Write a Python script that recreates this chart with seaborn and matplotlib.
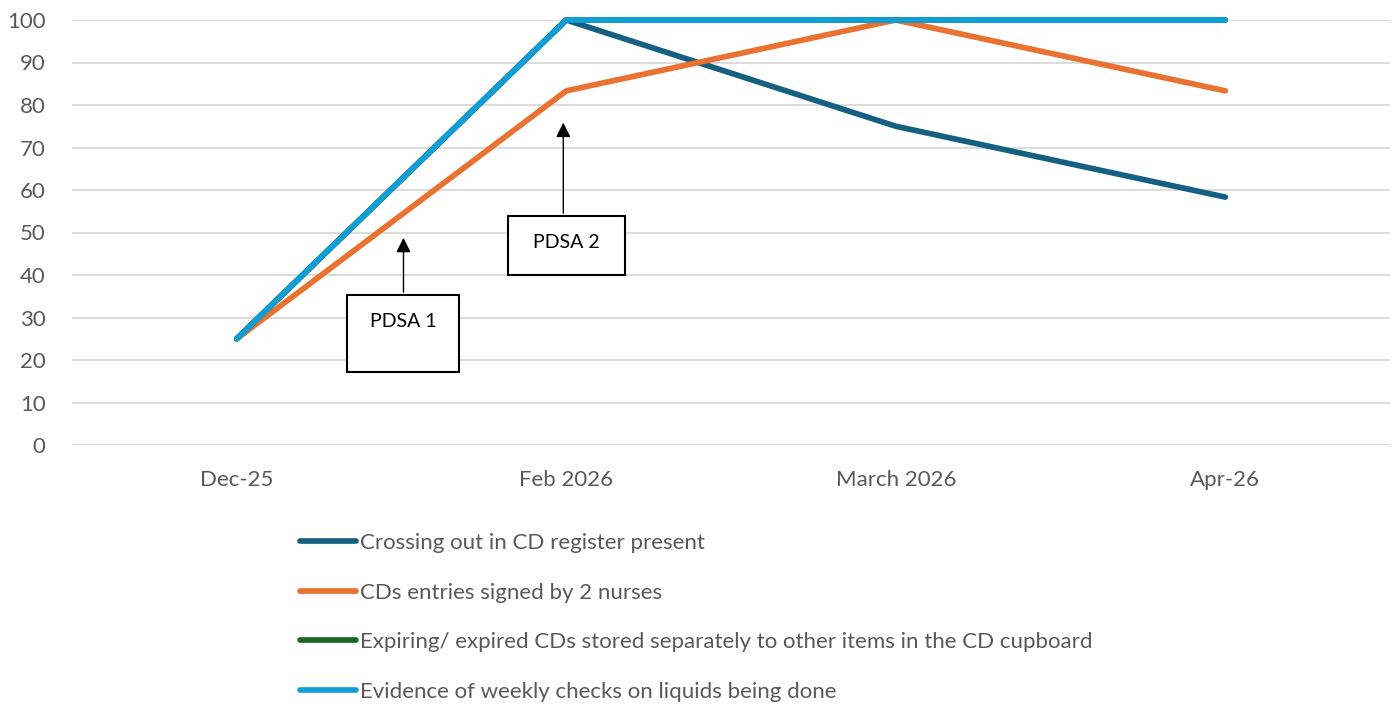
import matplotlib
matplotlib.use("Agg")
import matplotlib.pyplot as plt
from matplotlib.patches import Rectangle
import pandas as pd
import seaborn as sns

months = ["Dec-25", "Feb 2026", "March 2026", "Apr-26"]
series_names = [
    "Crossing out in CD register present",
    "CDs entries signed by 2 nurses",
    "Expiring/ expired CDs stored separately to other items in the CD cupboard",
    "Evidence of weekly checks on liquids being done",
]
crossing_out = [25, 100, 75, 58.33]
signed_two = [25, 83.33, 100, 83.33]
expired_separate = [25, 100, 100, 100]
weekly_checks = [25, 100, 100, 100]
colors = ["#156082", "#E97132", "#196B24", "#0F9ED5"]

rows = []
for name, vals in zip(series_names,
                      [crossing_out, signed_two, expired_separate, weekly_checks]):
    for i, (m, v) in enumerate(zip(months, vals)):
        rows.append({"month": m, "pos": i, "series": name, "value": v})
df = pd.DataFrame(rows)

sns.set_style("white")
plt.rcParams["font.family"] = ["Lato", "DejaVu Sans"]

fig = plt.figure(figsize=(13.96, 7.10), dpi=100)
ax = fig.add_axes([72 / 1396, 1 - 445 / 710, (1390 - 72) / 1396, 425 / 710])

sns.lineplot(data=df, x="pos", y="value", hue="series", hue_order=series_names,
             palette=colors, linewidth=4.1, ax=ax, legend=False,
             solid_capstyle="round", solid_joinstyle="round", clip_on=False,
             zorder=3)

ax.set_xlim(-0.5, len(months) - 0.5)
ax.set_ylim(0, 100)
ax.set_xticks(range(len(months)))
ax.set_xticklabels(months)
ax.set_yticks(range(0, 101, 10))
ax.set_xlabel("")
ax.set_ylabel("")
ax.grid(axis="y", color="#D9D9D9", linewidth=1.3)
ax.set_axisbelow(True)
for s in ax.spines.values():
    s.set_visible(False)
ax.tick_params(axis="both", length=0, labelsize=16, labelcolor="#595959")
ax.tick_params(axis="x", pad=18)
ax.tick_params(axis="y", pad=19)

# PDSA annotation boxes
boxes = [
    ("PDSA 1", 0.336, 17.2, 0.340, 18.1, 0.506, 49.4),
    ("PDSA 2", 0.824, 40.0, 0.355, 13.9, 0.991, 76.5),
]
for label, bx, by, bw, bh, ax_x, tip_y in boxes:
    ax.add_patch(Rectangle((bx, by), bw, bh, facecolor="white",
                           edgecolor="black", linewidth=1.5, zorder=5))
    ax.text(bx + bw / 2, by + bh - 6.3, label, ha="center", va="center",
            fontsize=14, color="black", zorder=6)
    ax.annotate("", xy=(ax_x, tip_y), xytext=(ax_x, by + bh),
                arrowprops=dict(arrowstyle="-|>", color="black", lw=1,
                                mutation_scale=22), zorder=6)

handles = [plt.Line2D([], [], color=c, linewidth=4.1, solid_capstyle="round")
           for c in colors]
fig.legend(handles, series_names, loc="upper left",
           bbox_to_anchor=(280 / 1396, 1 - 513 / 710), frameon=False,
           fontsize=16, labelcolor="#595959", handlelength=2.5,
           handletextpad=0.2, labelspacing=1.33)

fig.savefig("out.png", dpi=100)
